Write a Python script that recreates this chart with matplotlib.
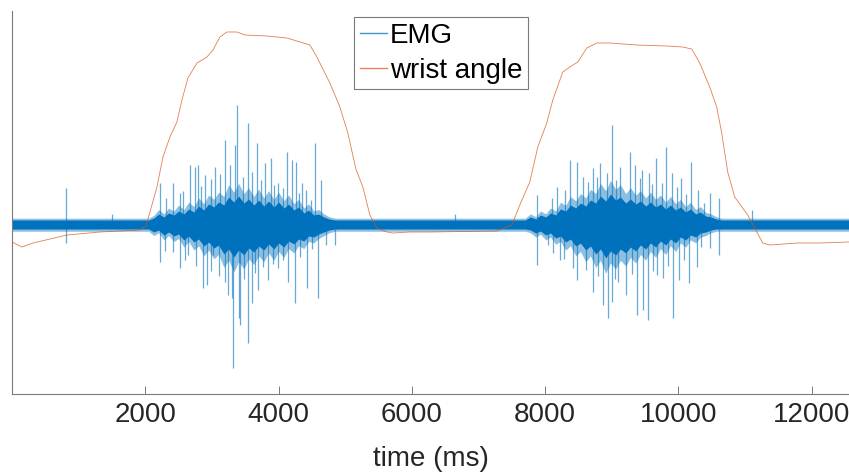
"""EMG and wrist angle recording, MATLAB-style figure."""
import numpy as np
import matplotlib.pyplot as plt

plt.rcParams['font.family'] = ['Liberation Sans', 'DejaVu Sans']

# wrist angle trace (plot units)
wrist_t = [0, 150, 315, 825, 1320, 1920, 2010, 2100, 2175, 2265, 2370, 2475, 2550,
           2640, 2775, 2925, 3015, 3120, 3225, 3375, 3495, 3825, 4125, 4470, 4575,
           4770, 4920, 5040, 5160, 5265, 5370, 5475, 5625, 5715, 5970, 6270, 7275,
           7500, 7620, 7770, 7890, 8025, 8115, 8265, 8370, 8490, 8625, 8775, 8970,
           9375, 9825, 10065, 10200, 10320, 10470, 10575, 10650, 10740, 10845,
           11040, 11265, 11370, 11790, 12120, 12555]
wrist = [-0.18, -0.23, -0.19, -0.11, -0.08, -0.06, -0.02, 0.19, 0.37, 0.67, 0.87,
         1.02, 1.24, 1.46, 1.61, 1.67, 1.74, 1.87, 1.92, 1.92, 1.89, 1.88, 1.86,
         1.79, 1.67, 1.41, 1.17, 0.91, 0.55, 0.37, 0.09, -0.04, -0.08, -0.09,
         -0.08, -0.08, -0.07, -0.01, 0.19, 0.42, 0.77, 1.01, 1.24, 1.52, 1.57,
         1.62, 1.76, 1.81, 1.81, 1.79, 1.78, 1.77, 1.75, 1.61, 1.37, 1.17, 0.91,
         0.52, 0.27, 0.09, -0.19, -0.21, -0.19, -0.19, -0.18]

# EMG dense core envelope (jagged, read at ~75 ms steps inside the bursts)
core_t = [0, 2050, 2130, 2200, 2280, 2350, 2430, 2500, 2580, 2650, 2730, 2800,
          2880, 2950, 3030, 3100, 3180, 3250, 3330, 3400, 3480, 3550, 3630, 3700,
          3780, 3850, 3930, 4000, 4080, 4150, 4230, 4300, 4380, 4450, 4530, 4600,
          4680, 4760, 4850, 7700, 7780, 7860, 7930, 8010, 8080, 8160, 8230, 8310,
          8380, 8460, 8530, 8610, 8680, 8760, 8830, 8910, 8980, 9060, 9130, 9210,
          9280, 9360, 9430, 9510, 9580, 9660, 9730, 9810, 9880, 9960, 10030, 10110,
          10180, 10260, 10330, 10410, 10490, 10570, 10650, 12560]
core_hi = [0.04, 0.04, 0.06, 0.10, 0.07, 0.11, 0.09, 0.13, 0.10, 0.15, 0.12, 0.18,
           0.14, 0.20, 0.17, 0.22, 0.19, 0.27, 0.22, 0.28, 0.21, 0.25, 0.19, 0.24,
           0.18, 0.23, 0.17, 0.22, 0.16, 0.20, 0.14, 0.17, 0.11, 0.14, 0.09, 0.10,
           0.07, 0.05, 0.04, 0.04, 0.07, 0.05, 0.09, 0.07, 0.11, 0.09, 0.15, 0.13,
           0.19, 0.16, 0.21, 0.18, 0.24, 0.21, 0.28, 0.23, 0.30, 0.24, 0.27, 0.21,
           0.25, 0.20, 0.23, 0.18, 0.22, 0.17, 0.20, 0.15, 0.19, 0.14, 0.17, 0.12,
           0.15, 0.10, 0.12, 0.08, 0.07, 0.05, 0.04, 0.04]
core_lo = [-0.05, -0.05, -0.08, -0.06, -0.11, -0.08, -0.12, -0.10, -0.16, -0.12,
           -0.18, -0.15, -0.22, -0.18, -0.24, -0.21, -0.30, -0.25, -0.33, -0.26,
           -0.31, -0.24, -0.28, -0.22, -0.26, -0.20, -0.25, -0.19, -0.23, -0.17,
           -0.20, -0.15, -0.17, -0.12, -0.13, -0.10, -0.08, -0.06, -0.05, -0.05,
           -0.06, -0.09, -0.07, -0.11, -0.09, -0.14, -0.12, -0.18, -0.15, -0.22,
           -0.19, -0.26, -0.22, -0.30, -0.25, -0.34, -0.27, -0.31, -0.25, -0.29,
           -0.23, -0.27, -0.21, -0.25, -0.19, -0.23, -0.17, -0.21, -0.15, -0.19,
           -0.13, -0.16, -0.11, -0.13, -0.09, -0.08, -0.06, -0.05, -0.05, -0.05]

# EMG spikes sticking out of the core (time, peak value)
spike_t = [810, 810, 4840, 2680, 11100, 1500, 6650, 9700,
           2220, 2415, 2520, 2670, 2745, 2790, 2895, 3045, 3195, 3270, 3345, 3375,
           3540, 3675, 3795, 3885, 3990, 4125, 4200, 4260, 4350, 4410, 4545, 4635,
           2220, 2415, 2520, 2640, 2865, 2925, 3015, 3195, 3240, 3300, 3315, 3405,
           3420, 3540, 3600, 3690, 3840, 3990, 4140, 4245, 4425, 4590, 4710,
           2310, 2560, 2830, 2980, 3120, 3460, 3600, 3740, 3930, 4060, 4300, 4480,
           2300, 2600, 2760, 2980, 3100, 3480, 3640, 3760, 3920, 4060, 4320, 4500,
           7875, 8175, 8370, 8475, 8565, 8715, 8820, 8925, 9000, 9120, 9270, 9345,
           9450, 9555, 9660, 9810, 9900, 10035, 10185, 10290, 10470, 10605,
           7875, 8040, 8220, 8415, 8475, 8715, 8865, 8940, 9000, 9090, 9210, 9375,
           9465, 9540, 9675, 9765, 9915, 10005, 10155, 10275, 10470, 10605,
           8100, 8300, 8640, 8780, 9060, 9420, 9600, 9750, 9980, 10110, 10380,
           8120, 8280, 8620, 8800, 9050, 9300, 9620, 9850, 10080, 10340]
spike_y = [0.36, -0.19, -0.21, 0.12, 0.14, 0.10, 0.10, -0.12,
           0.41, 0.41, 0.31, 0.59, 0.57, 0.59, 0.49, 0.57, 0.84, 0.59, 0.79, 1.19,
           1.01, 0.81, 0.61, 0.66, 0.41, 0.72, 0.64, 0.62, 0.41, 0.34, 0.81, 0.44,
           -0.38, -0.28, -0.44, -0.31, -0.64, -0.61, -0.31, -0.58, -0.71, -0.74,
           -1.44, -0.94, -1.01, -1.19, -0.79, -0.66, -0.56, -0.44, -0.58, -0.79,
           -0.64, -0.74, -0.21,
           0.26, 0.33, 0.38, 0.45, 0.50, 0.47, 0.52, 0.44, 0.39, 0.36, 0.31, 0.24,
           -0.27, -0.36, -0.42, -0.47, -0.52, -0.55, -0.49, -0.43, -0.40, -0.36,
           -0.33, -0.25,
           0.29, 0.37, 0.64, 0.62, 0.47, 0.56, 0.61, 0.51, 0.99, 0.57, 0.72, 0.59,
           0.54, 0.51, 0.66, 0.77, 0.51, 0.46, 0.62, 0.34, 0.31, 0.26,
           -0.41, -0.21, -0.36, -0.44, -0.56, -0.68, -0.81, -0.94, -0.78, -0.58,
           -0.71, -0.91, -0.86, -0.96, -0.51, -0.54, -0.94, -0.56, -0.59, -0.43,
           -0.24, -0.31,
           0.26, 0.34, 0.42, 0.47, 0.44, 0.46, 0.40, 0.41, 0.37, 0.30, 0.21,
           -0.29, -0.35, -0.46, -0.52, -0.55, -0.50, -0.47, -0.42, -0.36, -0.23]

x_ticks = [2000, 4000, 6000, 8000, 10000, 12000]

emg_color = '#0072BD'
wrist_color = '#D95319'
axis_gray = '#7a7a7a'

fig = plt.figure(figsize=(8.49, 4.73), dpi=100)
ax = fig.add_axes([12 / 849, 79 / 473, 837 / 849, 383 / 473])

# lighter fuzz around the core, then the dense core itself
ax.fill_between(core_t, np.array(core_lo) * 1.45, np.array(core_hi) * 1.45,
                color=emg_color, alpha=0.45, lw=0, zorder=2)
ax.fill_between(core_t, core_lo, core_hi, color=emg_color, lw=0, zorder=2)
ax.vlines(spike_t, 0, spike_y, color=emg_color, lw=0.9, alpha=0.6, zorder=2)
ax.plot(wrist_t, wrist, color=wrist_color, lw=0.6, alpha=0.75, zorder=3)

# legend proxies
h_emg, = ax.plot([], [], color='#3a9bc8', lw=1.0)
h_wr, = ax.plot([], [], color='#e8825a', lw=1.0)
leg = ax.legend([h_emg, h_wr], ['EMG', 'wrist angle'], loc='upper left',
                bbox_to_anchor=(354 / 849, 1 - 17 / 473),
                bbox_transform=fig.transFigure, borderaxespad=0,
                fontsize=20, handlelength=1.0, handletextpad=0.08,
                borderpad=0.2, labelspacing=0.33, fancybox=False,
                framealpha=1, edgecolor=axis_gray)
leg.get_frame().set_linewidth(0.8)

ax.set_xlim(0, 12560)
ax.set_ylim(-1.70, 2.13)
ax.set_xticks(x_ticks)
ax.set_yticks([])
ax.tick_params(axis='x', direction='in', length=5.5, width=0.7,
               color=axis_gray, labelsize=20, labelcolor='#262626', pad=6)
for side in ['top', 'right']:
    ax.spines[side].set_visible(False)
for side in ['left', 'bottom']:
    ax.spines[side].set_color(axis_gray)
    ax.spines[side].set_linewidth(0.8)
ax.set_xlabel('time (ms)', fontsize=20, color='#262626', labelpad=13)

fig.savefig('out.png', dpi=100)
